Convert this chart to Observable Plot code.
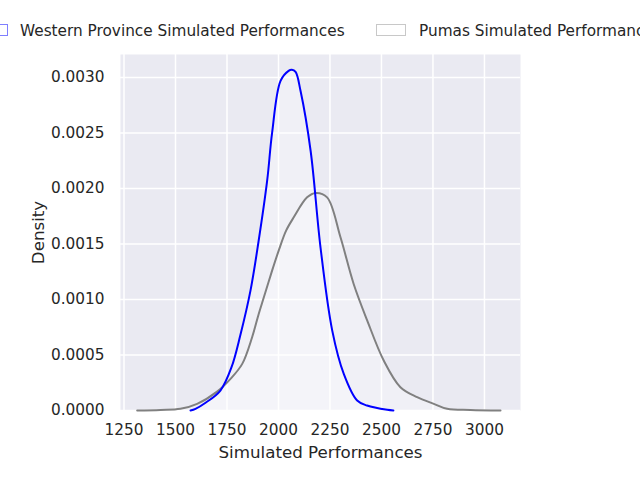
<!DOCTYPE html>
<html>
<head>
<meta charset="utf-8">
<script src="https://cdn.jsdelivr.net/npm/d3@7"></script>
<script src="https://cdn.jsdelivr.net/npm/@observablehq/plot@0.6"></script>
<style>
  html, body { margin: 0; padding: 0; background: #fff; }
  #wrap { position: relative; width: 640px; height: 480px; overflow: hidden; font-family: "DejaVu Sans", sans-serif; color: #262626; }
  #chart { position: absolute; left: 0; top: 0; }
  .lg-text { position: absolute; font-size: 15.3px; line-height: 16px; white-space: nowrap; top: 23px; }
  .lg-box { position: absolute; box-sizing: border-box; height: 12px; width: 30px; top: 24px; background: #fff; }
</style>
</head>
<body>
<div id="wrap">
  <div id="chart"></div>
  <div class="lg-box" style="left:-22px; border:1px solid rgba(0,0,255,0.5);"></div>
  <div class="lg-text" style="left:20px;">Western Province Simulated Performances</div>
  <div class="lg-box" style="left:376px; border:1px solid #c8c8c8;"></div>
  <div class="lg-text" style="left:419px;">Pumas Simulated Performances</div>
</div>
<script>
const seriesNames = ["Western Province Simulated Performances", "Pumas Simulated Performances"];
const blueX = [1573,1597,1646,1718,1772,1815,1864,1903,1945,1969,2010,2049,2065,2083,2107,2156,2204,2261,2317,2382,2430,2528,2558];
const blueY = [0,0.000015,0.00007,0.00018,0.00039,0.00068,0.00108,0.00152,0.00207,0.00250,0.00297,0.00306,0.00307,0.00305,0.00288,0.00234,0.00147,0.00072,0.00033,0.00009,0.000045,0.000006,0];
const greyX = [1314,1427,1524,1605,1702,1767,1824,1872,1904,1929,1969,2001,2037,2074,2139,2180,2236,2301,2365,2431,2511,2592,2673,2754,2819,2932,3078];
const greyY = [0,0.000005,0.000015,0.00006,0.00017,0.000285,0.00042,0.00066,0.00087,0.00102,0.00126,0.00144,0.00162,0.00174,0.00192,0.00196,0.00192,0.00156,0.00114,0.00081,0.00045,0.00021,0.00012,0.00006,0.000015,0.000005,0];
const xTicks = [1250,1500,1750,2000,2250,2500,2750,3000];
const yTicks = [0,0.0005,0.001,0.0015,0.002,0.0025,0.003];
const xLabel = "Simulated Performances";
const yLabel = "Density";

const blue = blueX.map((x, i) => ({x, y: blueY[i], s: seriesNames[0]}));
const grey = greyX.map((x, i) => ({x, y: greyY[i], s: seriesNames[1]}));

const chart = Plot.plot({
  width: 640,
  height: 480,
  marginLeft: 120,
  marginRight: 120,
  marginTop: 54,
  marginBottom: 70,
  style: { fontFamily: "DejaVu Sans, sans-serif", fontSize: "15.3px", color: "#262626", background: "transparent" },
  x: { domain: [1233, 3175], label: null },
  y: { domain: [0, 0.003207], label: null },
  marks: [
    Plot.frame({ fill: "#EAEAF2", stroke: null }),
    Plot.gridX(xTicks, { stroke: "white", strokeOpacity: 1, strokeWidth: 1.5 }),
    Plot.gridY(yTicks, { stroke: "white", strokeOpacity: 1, strokeWidth: 1.5 }),
    Plot.areaY(grey, { x: "x", y: "y", fill: "white", fillOpacity: 0.3, curve: "catmull-rom" }),
    Plot.areaY(blue, { x: "x", y: "y", fill: "white", fillOpacity: 0.3, curve: "catmull-rom" }),
    Plot.line(grey, { x: "x", y: "y", stroke: "gray", strokeWidth: 2, curve: "catmull-rom" }),
    Plot.line(blue, { x: "x", y: "y", stroke: "blue", strokeWidth: 2, curve: "catmull-rom" }),
    Plot.axisX({ ticks: xTicks, tickSize: 0, tickPadding: 14, tickFormat: d3.format("d"), fontSize: 15.3, label: null }),
    Plot.axisY({ ticks: yTicks, tickSize: 0, tickPadding: 16, tickFormat: d3.format(".4f"), fontSize: 15.3, label: null }),
    Plot.text([xLabel], { frameAnchor: "bottom", dy: 47, fontSize: 16.7, fill: "#262626" }),
    Plot.text([yLabel], { frameAnchor: "left", textAnchor: "middle", rotate: -90, dx: -82, fontSize: 16.7, fill: "#262626" })
  ]
});
document.getElementById("chart").appendChild(chart);
</script>
</body>
</html>
